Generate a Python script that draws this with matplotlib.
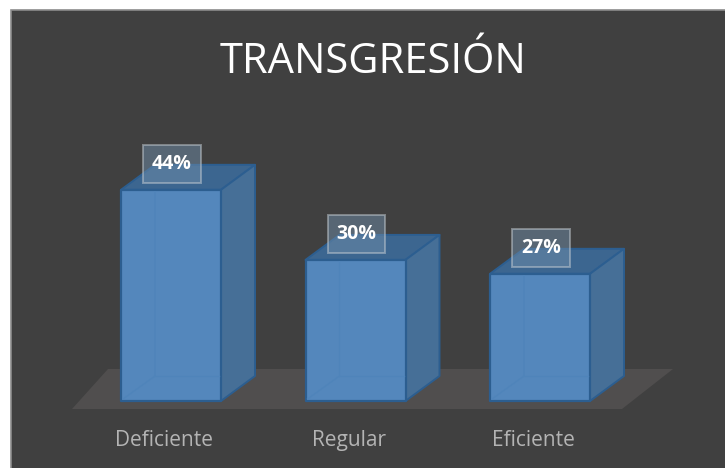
import matplotlib
matplotlib.use('Agg')
import matplotlib.pyplot as plt
from matplotlib.patches import Rectangle

categories = ['Deficiente', 'Regular', 'Eficiente']
values = [44, 29.4, 26.5]
value_labels = ['44%', '30%', '27%']
title = 'TRANSGRESIÓN'

W, H = 725, 468
BG = '#404040'
FRONT = '#5487BC'
SIDE = '#466F97'
TOP = '#3C6690'
EDGE = '#2C5E90'
FLOOR = '#504E4E'

# axes mapped so 1 category = 184.5 px and 1 percent = 4.8 px
px_x = 184.5
px_y = 4.8
x0_px = 171
y0_px = 401


def dx(p):
    return p / px_x


def dy(p):
    return p / px_y


fig = plt.figure(figsize=(W / 100, H / 100), dpi=100, facecolor='white')
ax = fig.add_axes([0, 0, 1, 1])
ax.set_xlim(-x0_px / px_x, (W - x0_px) / px_x)
ax.set_ylim(-(H - y0_px) / px_y, y0_px / px_y)
ax.axis('off')

# chart background, runs off the right and bottom of the picture
x_left = -x0_px / px_x
ax.add_patch(Rectangle((x_left + dx(10.5), -(H - y0_px + 5) / px_y), dx(W), dy(H - 5),
                       facecolor=BG, edgecolor='#8C8C8C', linewidth=1.2, zorder=0))

# floor
ax.fill([dx(-99), dx(451), dx(502), dx(-63)],
        [dy(-8), dy(-8), dy(32), dy(32)], color=FLOOR, lw=0, zorder=1)

half = dx(50)
depth_x = dx(34)
depth_y = dy(25)
for i, (cat, val, lab) in enumerate(zip(categories, values, value_labels)):
    l, r = i - half, i + half
    # top and side faces
    ax.fill([l, r, r + depth_x, l + depth_x], [val, val, val + depth_y, val + depth_y],
            facecolor=TOP, edgecolor=EDGE, lw=1.4, zorder=2, joinstyle='round')
    ax.fill([r, r + depth_x, r + depth_x, r], [0, depth_y, val + depth_y, val],
            facecolor=SIDE, edgecolor=EDGE, lw=1.4, zorder=2, joinstyle='round')
    # front face
    ax.fill([l, r, r, l], [0, 0, val, val], facecolor=FRONT, edgecolor=EDGE,
            lw=1.6, zorder=3, joinstyle='round')
    # hidden back edges seen through the front
    ax.plot([l + dx(2), l + depth_x, l + depth_x], [dy(2), depth_y, val - dy(2)],
            color='#4F84BA', lw=1, zorder=4)
    ax.plot([l + depth_x, r - dx(2)], [depth_y, depth_y], color='#4F84BA', lw=1, zorder=4)
    # value label
    ax.text(i + dx(1), val + dy(26), lab, ha='center', va='center', color='white',
            fontsize=14, fontweight='bold', family='Open Sans', zorder=6,
            bbox=dict(boxstyle='square,pad=0.46', facecolor='#6E8CA8', alpha=0.5,
                      edgecolor='#C4CCD2', linewidth=1.4))
    ax.text(i + dx(-7), dy(-45), cat, ha='center', va='baseline', color='#B4B4B4',
            fontsize=15, family='Open Sans', zorder=5)

ax.text(dx(202), dy(339), title, ha='center', va='center', color='white',
        fontsize=30, family='Open Sans', zorder=5)

fig.savefig('out.png', dpi=100, facecolor='white')
